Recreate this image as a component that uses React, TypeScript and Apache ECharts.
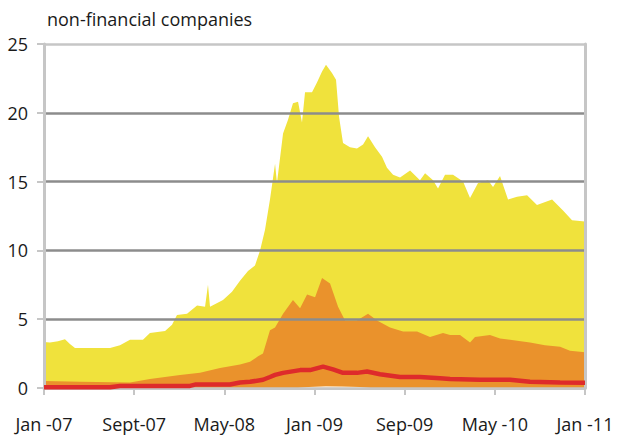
import React, { useEffect, useRef } from "react";
import * as echarts from "echarts";

// x positions are months since Jan-07
const xTickLabels = ["Jan -07", "Sept-07", "May-08", "Jan -09", "Sep-09", "May -10", "Jan -11"];
const yTickValues = [0, 5, 10, 15, 20, 25];
const titleText = "non-financial companies";

const yellowMonths = [0, 0.53, 1.24, 1.86, 2.3, 2.75, 4.08, 5.86, 6.74, 7.63, 8.78, 9.4, 10.74, 11.36, 11.8, 12.69, 13.58, 14.29, 14.55, 14.73, 15.88, 16.68, 17.39, 18.1, 18.72, 19.17, 19.61, 20.05, 20.5, 20.67, 21.21, 21.65, 22.09, 22.54, 22.89, 23.16, 23.78, 24.22, 24.67, 25.02, 25.55, 25.91, 26.18, 26.53, 27.15, 27.77, 28.31, 28.75, 29.37, 29.99, 30.43, 30.97, 31.59, 32.48, 33.36, 33.81, 34.52, 34.96, 35.58, 36.29, 37.18, 37.8, 38.51, 39.4, 39.84, 40.46, 41.17, 41.97, 42.86, 43.74, 45.08, 46.05, 46.85, 48];
const yellowValues = [3.35, 3.3, 3.4, 3.55, 3.2, 2.9, 2.9, 2.9, 3.1, 3.5, 3.5, 4.0, 4.15, 4.6, 5.3, 5.4, 6.0, 5.9, 7.5, 5.9, 6.4, 7.0, 7.8, 8.5, 8.9, 10.0, 11.5, 13.7, 16.3, 14.9, 18.5, 19.5, 20.7, 20.8, 19.3, 21.5, 21.5, 22.2, 23.0, 23.5, 22.9, 22.4, 19.7, 17.8, 17.5, 17.4, 17.7, 18.3, 17.5, 16.8, 16.0, 15.5, 15.3, 15.8, 15.1, 15.6, 15.1, 14.5, 15.5, 15.5, 15.0, 13.8, 14.9, 15.1, 14.6, 15.4, 13.7, 13.9, 14.0, 13.3, 13.7, 12.9, 12.2, 12.1];

const orangeMonths = [0, 3.19, 7.63, 9.4, 12.07, 13.84, 15.62, 17.39, 18.28, 18.99, 19.43, 20.05, 20.5, 21.21, 22.09, 22.72, 23.34, 24.05, 24.67, 25.38, 26.09, 26.71, 27.77, 28.75, 29.55, 30.7, 31.86, 33.1, 34.25, 35.4, 36.03, 36.91, 37.8, 38.24, 39.57, 40.46, 41.35, 43.12, 44.45, 45.79, 46.67, 48];
const orangeValues = [0.5, 0.45, 0.4, 0.65, 0.95, 1.1, 1.45, 1.7, 1.9, 2.3, 2.5, 4.2, 4.4, 5.4, 6.4, 5.8, 6.8, 6.6, 8.0, 7.6, 5.9, 4.9, 4.9, 5.4, 4.9, 4.4, 4.1, 4.1, 3.7, 4.0, 3.85, 3.85, 3.3, 3.7, 3.85, 3.6, 3.5, 3.3, 3.1, 3.0, 2.7, 2.6];

const paleMonths = [22.5, 23.5, 25.0, 26.5, 28.0, 29.0];
const paleValues = [0.0, 0.08, 0.12, 0.1, 0.08, 0.0];

const redMonths = [0, 5.86, 6.74, 12.95, 13.4, 16.5, 17.39, 18.28, 19.43, 20.05, 20.5, 21.21, 22.72, 23.6, 24.76, 25.64, 26.53, 27.77, 28.66, 29.81, 31.59, 33.36, 35.14, 36.03, 38.69, 41.35, 43.12, 45.79, 48];
const redValues = [0.05, 0.05, 0.15, 0.15, 0.25, 0.25, 0.4, 0.45, 0.6, 0.8, 0.95, 1.1, 1.3, 1.3, 1.55, 1.35, 1.1, 1.1, 1.2, 1.0, 0.8, 0.8, 0.7, 0.65, 0.6, 0.6, 0.45, 0.4, 0.38];

const zip = (xs: number[], ys: number[]) => xs.map((x, i) => [x, ys[i]]);

const FONT = "Open Sans";
const LIGHT = "#c6c6c6";

export default function App() {
  const ref = useRef<HTMLDivElement>(null);
  useEffect(() => {
    if (!ref.current) return;
    const chart = echarts.init(ref.current, null, { renderer: "svg" });
    const areaSeries = (name: string, data: number[][], color: string, z: number) => ({
      name,
      type: "line",
      data,
      showSymbol: false,
      symbol: "none",
      lineStyle: { width: 0 },
      areaStyle: { color, opacity: 1 },
      z,
    });
    chart.setOption({
      animation: false,
      backgroundColor: "#ffffff",
      title: {
        text: titleText,
        left: 42,
        top: 5,
        textStyle: { fontFamily: FONT, fontSize: 18, fontWeight: "normal", color: "#1a1a1a" },
      },
      grid: { left: 44, right: 32, top: 44, bottom: 49 },
      xAxis: {
        type: "value",
        min: 0,
        max: 48,
        interval: 8,
        axisLine: { show: true, lineStyle: { color: LIGHT, width: 3 } },
        axisTick: { show: true, length: 7, lineStyle: { color: LIGHT, width: 2 } },
        splitLine: { show: false },
        axisLabel: {
          margin: 27,
          fontFamily: FONT,
          fontSize: 18,
          color: "#1a1a1a",
          formatter: (v: number) => xTickLabels[Math.round(v / 8)] ?? "",
        },
      },
      yAxis: [
        {
          type: "value",
          min: 0,
          max: 25,
          interval: 5,
          z: 5,
          axisLine: { show: true, lineStyle: { color: LIGHT, width: 3 } },
          axisTick: { show: true, length: 7, lineStyle: { color: LIGHT, width: 2 } },
          splitLine: {
            show: true,
            lineStyle: {
              color: yTickValues.map((v) => (v === 0 || v === 25 ? LIGHT : "#8c8c8c")),
              width: 2.5,
            },
          },
          axisLabel: { margin: 16, fontFamily: FONT, fontSize: 18, color: "#1a1a1a" },
        },
        {
          type: "value",
          position: "right",
          min: 0,
          max: 25,
          interval: 5,
          z: 5,
          axisLine: { show: true, lineStyle: { color: LIGHT, width: 3 } },
          axisTick: { show: false },
          axisLabel: { show: false },
          splitLine: { show: false },
        },
      ],
      series: [
        areaSeries("total", zip(yellowMonths, yellowValues), "#f0e23c", 2),
        areaSeries("middle", zip(orangeMonths, orangeValues), "#ea922c", 3),
        areaSeries("low", zip(paleMonths, paleValues), "#fdf1e0", 4),
        {
          name: "median",
          type: "line",
          data: zip(redMonths, redValues),
          showSymbol: false,
          symbol: "none",
          lineStyle: { width: 4.5, color: "#de2b2b" },
          z: 6,
        },
      ],
    });
    return () => chart.dispose();
  }, []);
  return <div ref={ref} style={{ position: "fixed", left: 0, top: 0, width: 617, height: 437 }} />;
}
